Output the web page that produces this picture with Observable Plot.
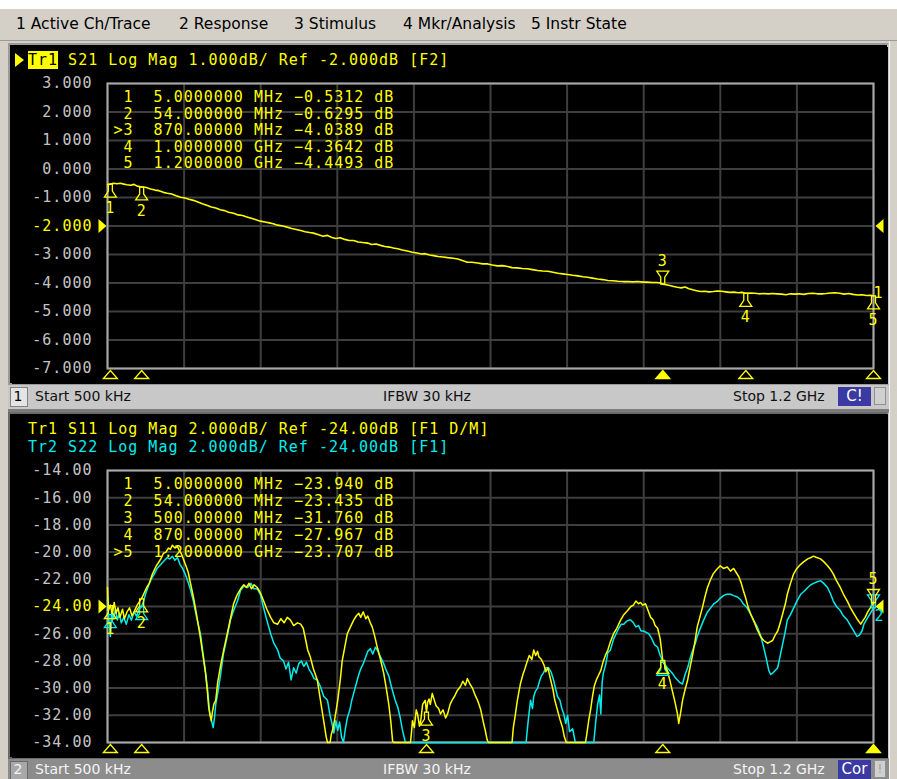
<!DOCTYPE html>
<html><head><meta charset="utf-8">
<script src="https://cdn.jsdelivr.net/npm/d3@7"></script>
<script src="https://cdn.jsdelivr.net/npm/@observablehq/plot@0.6"></script>
<style>
body{margin:0;width:897px;height:779px;position:relative;overflow:hidden;background:#d4d0c8;font-family:"DejaVu Sans",sans-serif;}
.abs{position:absolute;}
.menu{font-size:15.5px;color:#000;top:15px;line-height:19px;white-space:pre;}
.mono{font-family:"DejaVu Sans Mono",monospace;font-size:15px;letter-spacing:1px;white-space:pre;line-height:18px;}
.st{font-size:14px;line-height:17px;white-space:pre;}
</style></head><body>
<div class="abs" style="left:0;top:0;width:897px;height:9px;background:#fff"></div>
<div class="abs" style="left:0;top:9px;width:897px;height:31px;background:#d4d0c8;border-bottom:1px solid #9a9a9a"></div>
<div id="menu"></div>
<!-- panel 1 -->
<div class="abs" style="left:8px;top:43px;width:881px;height:342px;background:#000;box-sizing:border-box;border:2px solid #9a9a9a;border-right-color:#c8c8c8"></div>
<div id="p1" class="abs" style="left:12px;top:47px"></div>
<div id="h1" class="abs"></div>
<div class="abs" style="left:8px;top:385px;width:881px;height:24px;background:#c8c8c8;border-bottom:3px solid #7c7c7c"></div>
<div class="abs" style="left:10px;top:387px;width:16px;height:18px;background:#e4e4e4;border:1px solid #808080"></div>
<div id="s1" class="abs"></div>
<!-- panel 2 -->
<div class="abs" style="left:8px;top:412px;width:881px;height:347px;background:#000;box-sizing:border-box;border:2px solid #6a6a6a;border-right-color:#c8c8c8"></div>
<div id="p2" class="abs" style="left:12px;top:414px"></div>
<div id="h2" class="abs"></div>
<div class="abs" style="left:8px;top:759px;width:881px;height:20px;background:#8c8c8c"></div>
<div class="abs" style="left:10px;top:761px;width:16px;height:18px;background:#a8a8a8;border:1px solid #6a6a6a"></div>
<div id="s2" class="abs"></div>
<div class="abs" style="left:889px;top:41px;width:8px;height:738px;background:#d4d0c8;border-left:1px solid #f0f0f0"></div>
<script>
// ---------- texts ----------
const menuItems = ["1 Active Ch/Trace","2 Response","3 Stimulus","4 Mkr/Analysis","5 Instr State"];
const menuX = [16,179,294,403,531];
const ch1Header = ["Tr1", " S21 Log Mag 1.000dB/ Ref -2.000dB [F2]"];
const ch2Header = ["Tr1 S11 Log Mag 2.000dB/ Ref -24.00dB [F1 D/M]", "Tr2 S22 Log Mag 2.000dB/ Ref -24.00dB [F1]"];
const statusTexts = ["Start 500 kHz", "IFBW 30 kHz", "Stop 1.2 GHz"];
const ch1Flag = "C!", ch2Flag = "Cor";

// ---------- axes ----------
const xDivs = [0.5,120.45,240.4,360.35,480.3,600.25,720.2,840.15,960.1,1080.05,1200];
const topYTicks = [3,2,1,0,-1,-2,-3,-4,-5,-6,-7];
const topYLabels = ["3.000","2.000","1.000","0.000","-1.000","-2.000","-3.000","-4.000","-5.000","-6.000","-7.000"];
const topRef = -2;
const botYTicks = [-14,-16,-18,-20,-22,-24,-26,-28,-30,-32,-34];
const botYLabels = ["-14.00","-16.00","-18.00","-20.00","-22.00","-24.00","-26.00","-28.00","-30.00","-32.00","-34.00"];
const botRef = -24;

// ---------- markers ----------
const topMarkerFreq = [5,54,870,1000,1200];
const topMarkerVal = [-0.5312,-0.6295,-4.0389,-4.3642,-4.4493];
const topMarkerFreqLabel = ["5.0000000 MHz","54.000000 MHz","870.00000 MHz","1.0000000 GHz","1.2000000 GHz"];
const topActive = 3;
const botMarkerFreq = [5,54,500,870,1200];
const botS11Val = [-23.94,-23.435,-31.76,-27.967,-23.707];
const botS22Val = [-24.6,-24.0,-34,-28.1,-24.1];
const botMarkerFreqLabel = ["5.0000000 MHz","54.000000 MHz","500.00000 MHz","870.00000 MHz","1.2000000 GHz"];
const botActive = 5;

// ---------- traces [MHz, dB] ----------
const s21 = [[0.5,-0.55],[5,-0.53],[10,-0.50],[15,-0.52],[21,-0.50],[26,-0.53],[31,-0.55],[37,-0.57],[42,-0.54],[47,-0.60],[54,-0.63],[60,-0.64],[68,-0.70],[75,-0.74],[81,-0.76],[88,-0.82],[94,-0.85],[101,-0.88],[108,-0.94],[115,-0.99],[122,-1.02],[128,-1.06],[135,-1.10],[142,-1.16],[149,-1.22],[157,-1.28],[163,-1.33],[170,-1.37],[177,-1.43],[184,-1.46],[190,-1.52],[198,-1.55],[205,-1.61],[212,-1.63],[220,-1.69],[227,-1.74],[233,-1.78],[240,-1.83],[247,-1.86],[254,-1.89],[260,-1.92],[267,-1.97],[275,-2.00],[282,-2.04],[289,-2.09],[296,-2.12],[303,-2.16],[310,-2.20],[317,-2.23],[323,-2.25],[330,-2.30],[338,-2.36],[345,-2.33],[352,-2.40],[358,-2.44],[365,-2.41],[372,-2.47],[379,-2.51],[386,-2.51],[393,-2.56],[400,-2.58],[408,-2.60],[414,-2.65],[421,-2.63],[428,-2.68],[435,-2.72],[442,-2.74],[448,-2.77],[455,-2.80],[462,-2.84],[470,-2.88],[478,-2.92],[485,-2.95],[492,-2.98],[498,-2.97],[505,-3.02],[511,-3.04],[518,-3.07],[526,-3.09],[533,-3.11],[542,-3.13],[549,-3.16],[556,-3.21],[564,-3.27],[571,-3.27],[580,-3.30],[588,-3.33],[596,-3.33],[603,-3.37],[611,-3.40],[619,-3.39],[627,-3.42],[634,-3.46],[642,-3.47],[650,-3.49],[658,-3.50],[666,-3.53],[674,-3.56],[682,-3.58],[690,-3.59],[698,-3.62],[706,-3.66],[713,-3.68],[721,-3.70],[729,-3.73],[737,-3.75],[745,-3.78],[752,-3.80],[760,-3.83],[768,-3.86],[776,-3.88],[784,-3.91],[792,-3.92],[800,-3.94],[808,-3.95],[815,-3.95],[823,-3.96],[831,-3.95],[839,-3.97],[846,-3.97],[854,-3.98],[861,-3.98],[866,-4.00],[870,-4.04],[875,-4.06],[881,-4.09],[887,-4.12],[893,-4.15],[899,-4.17],[905,-4.14],[911,-4.20],[917,-4.24],[923,-4.27],[929,-4.30],[936,-4.29],[942,-4.31],[949,-4.30],[956,-4.28],[962,-4.29],[969,-4.31],[975,-4.33],[982,-4.32],[988,-4.34],[994,-4.33],[1000,-4.36],[1007,-4.35],[1014,-4.36],[1021,-4.38],[1028,-4.37],[1035,-4.38],[1042,-4.37],[1049,-4.38],[1056,-4.39],[1063,-4.41],[1070,-4.38],[1077,-4.39],[1084,-4.38],[1091,-4.40],[1098,-4.37],[1105,-4.36],[1112,-4.38],[1119,-4.38],[1126,-4.37],[1133,-4.35],[1140,-4.34],[1147,-4.36],[1154,-4.39],[1161,-4.37],[1168,-4.40],[1175,-4.42],[1182,-4.41],[1189,-4.44],[1195,-4.43],[1200,-4.45]];

const s11 = [[0.5,-22.6],[2,-24.3],[5,-23.9],[8,-24.6],[11,-23.7],[14,-24.5],[17,-24.1],[20,-24.8],[24,-24.2],[27,-24.9],[31,-24.4],[35,-24.1],[39,-24.7],[43,-24.3],[47,-23.9],[51,-23.6],[54,-23.4],[57,-23.1],[60,-22.8],[63,-22.5],[66,-22.3],[68,-22.0],[71,-21.6],[74,-21.3],[77,-21.0],[80,-20.8],[84,-20.5],[88,-20.1],[92,-20.0],[96,-19.7],[99,-19.8],[102,-19.5],[106,-19.7],[110,-19.6],[113,-19.9],[116,-20.1],[120,-20.6],[124,-21.1],[127,-21.5],[130,-22.2],[135,-23.3],[140,-24.6],[146,-26.3],[150,-27.6],[154,-28.9],[157,-30.3],[159,-31.4],[161,-32.0],[163,-32.4],[165,-31.7],[167,-31.2],[170,-30.9],[173,-29.6],[177,-28.5],[182,-27.3],[188,-26.0],[193,-24.9],[198,-23.8],[203,-23.2],[209,-22.7],[214,-22.4],[218,-22.6],[222,-22.3],[226,-22.7],[230,-22.4],[235,-22.6],[240,-23.0],[245,-23.6],[250,-24.2],[256,-24.8],[261,-25.2],[267,-25.3],[272,-24.9],[277,-25.2],[282,-24.8],[287,-25.0],[292,-25.4],[298,-25.2],[303,-25.3],[307,-25.6],[311,-26.5],[314,-27.2],[318,-27.7],[323,-28.6],[329,-29.4],[334,-30.9],[339,-32.4],[343,-33.6],[345,-34],[349,-34],[351,-33.4],[354,-32.9],[358,-31.8],[361,-30.9],[365,-29.4],[368,-28.0],[372,-27.0],[376,-26.0],[381,-25.5],[386,-25.0],[390,-24.7],[394,-24.5],[397,-24.8],[401,-24.4],[405,-24.9],[408,-24.7],[412,-25.2],[415,-25.5],[419,-26.2],[423,-27.0],[428,-27.9],[433,-28.9],[437,-30.0],[441,-31.2],[444,-32.4],[447,-33.9],[449,-34],[475,-34],[477,-33.0],[478,-32.4],[481,-32.9],[484,-31.6],[486,-31.9],[489,-32.8],[491,-32.4],[494,-31.2],[498,-30.9],[500,-31.76],[502,-31.0],[504,-30.8],[506,-31.2],[509,-30.4],[511,-30.7],[515,-31.3],[519,-31.5],[522,-31.9],[526,-31.6],[530,-32.2],[533,-31.9],[537,-31.2],[540,-30.9],[544,-30.6],[548,-30.2],[553,-29.9],[557,-29.5],[561,-29.8],[564,-29.3],[568,-29.7],[572,-30.0],[576,-30.5],[580,-30.9],[585,-31.6],[589,-32.5],[592,-33.1],[595,-33.8],[597,-34],[634,-34],[636,-32.9],[639,-32.0],[642,-31.0],[645,-30.2],[647,-29.7],[651,-29.0],[654,-28.6],[658,-28.0],[661,-27.6],[665,-27.9],[668,-27.2],[671,-27.6],[674,-27.3],[676,-27.7],[680,-27.9],[684,-28.3],[687,-28.8],[690,-28.5],[694,-29.3],[698,-30.1],[701,-30.9],[705,-31.6],[709,-32.3],[713,-32.9],[716,-33.6],[719,-34],[749,-34],[751,-33.4],[754,-32.4],[757,-31.6],[760,-30.6],[763,-29.8],[766,-29.4],[770,-29.0],[773,-28.7],[777,-28.0],[781,-27.5],[784,-27.2],[788,-26.6],[793,-26.0],[798,-25.6],[804,-25.0],[809,-24.6],[815,-24.3],[820,-24.0],[824,-23.9],[828,-23.6],[832,-23.8],[835,-23.7],[839,-23.9],[843,-23.8],[847,-24.3],[851,-24.8],[855,-25.0],[858,-25.4],[862,-25.6],[866,-26.4],[870,-27.97],[874,-28.4],[877,-28.7],[881,-29.4],[885,-30.2],[889,-31.0],[893,-31.9],[895,-32.6],[898,-31.8],[901,-30.9],[905,-30.1],[909,-29.4],[913,-28.4],[917,-27.5],[921,-26.4],[924,-25.5],[928,-24.8],[932,-24.1],[936,-23.3],[940,-22.6],[945,-22.0],[949,-21.6],[954,-21.3],[960,-21.0],[965,-21.2],[971,-21.1],[976,-21.4],[981,-21.2],[985,-21.5],[989,-21.8],[993,-22.3],[996,-22.8],[1000,-23.4],[1004,-24.1],[1008,-24.6],[1012,-25.0],[1018,-25.7],[1023,-26.2],[1028,-26.5],[1034,-26.7],[1038,-26.6],[1042,-26.5],[1046,-26.1],[1050,-25.8],[1054,-25.2],[1058,-24.5],[1062,-23.8],[1065,-23.1],[1070,-22.3],[1075,-21.6],[1080,-21.2],[1086,-20.9],[1091,-20.7],[1097,-20.5],[1102,-20.4],[1106,-20.3],[1111,-20.4],[1117,-20.5],[1122,-20.7],[1128,-21.0],[1133,-21.3],[1137,-21.6],[1142,-22.1],[1148,-22.6],[1153,-23.1],[1159,-23.6],[1164,-24.1],[1169,-24.5],[1174,-24.9],[1180,-25.3],[1184,-25.0],[1187,-24.8],[1191,-24.4],[1195,-24.1],[1200,-23.7]];

const s22 = [[0.5,-23.5],[2,-24.6],[5,-26.2],[7,-24.3],[10,-24.9],[13,-24.2],[16,-25.0],[19,-24.5],[22,-25.2],[26,-24.8],[30,-25.3],[34,-24.6],[38,-25.0],[42,-24.4],[46,-24.7],[50,-24.2],[54,-24.0],[57,-23.6],[60,-23.1],[63,-22.7],[66,-22.3],[70,-21.9],[74,-21.6],[78,-21.2],[82,-21.0],[86,-20.8],[90,-20.6],[94,-20.4],[98,-20.5],[102,-20.3],[106,-20.6],[110,-20.4],[114,-20.9],[118,-21.2],[122,-21.6],[126,-22.1],[130,-22.7],[135,-23.6],[140,-24.8],[146,-26.0],[150,-27.4],[154,-28.8],[157,-30.0],[160,-31.6],[163,-32.3],[166,-32.9],[168,-32.2],[170,-31.2],[173,-30.4],[177,-29.2],[182,-27.5],[188,-26.2],[193,-25.0],[198,-24.3],[204,-23.6],[209,-22.8],[214,-22.5],[220,-22.6],[225,-22.3],[230,-22.7],[235,-22.7],[240,-23.1],[245,-24.1],[250,-25.0],[256,-26.0],[261,-26.7],[267,-27.2],[271,-27.8],[276,-28.0],[280,-28.6],[284,-28.1],[288,-29.4],[292,-28.5],[296,-28.9],[300,-28.2],[304,-28.0],[308,-28.4],[312,-28.1],[316,-28.6],[320,-28.9],[324,-29.3],[329,-29.4],[334,-29.9],[339,-30.6],[345,-30.9],[349,-32.0],[352,-32.6],[355,-33.3],[358,-32.4],[361,-33.1],[364,-32.5],[367,-33.6],[370,-34],[373,-33.0],[376,-32.2],[380,-31.6],[383,-30.9],[387,-30.2],[390,-29.7],[394,-29.0],[397,-28.6],[401,-28.2],[405,-27.7],[408,-27.3],[412,-27.1],[416,-27.5],[420,-27.0],[423,-27.2],[428,-27.7],[433,-28.2],[437,-28.7],[441,-29.1],[444,-29.7],[448,-30.4],[451,-30.9],[455,-31.4],[459,-32.2],[462,-33.0],[465,-33.6],[467,-34],[656,-34],[658,-33.0],[660,-32.1],[663,-30.9],[666,-31.5],[668,-30.6],[671,-30.2],[674,-30.0],[677,-29.5],[680,-29.1],[683,-28.9],[687,-28.5],[691,-28.5],[695,-28.8],[699,-29.4],[702,-30.0],[705,-30.6],[709,-30.9],[712,-31.5],[715,-31.9],[718,-32.6],[721,-32.0],[724,-33.2],[729,-33.0],[733,-34],[762,-34],[765,-32.5],[768,-31.2],[771,-30.5],[773,-31.9],[775,-29.6],[777,-28.9],[781,-28.2],[784,-27.4],[788,-27.2],[793,-26.4],[797,-26.0],[801,-25.6],[805,-25.3],[809,-25.3],[813,-25.1],[817,-25.0],[820,-25.0],[824,-25.2],[828,-25.5],[832,-25.4],[836,-25.8],[840,-25.8],[844,-25.9],[848,-26.0],[852,-26.3],[857,-26.8],[862,-27.0],[866,-27.6],[870,-28.0],[874,-28.3],[877,-28.5],[881,-28.7],[885,-28.9],[889,-29.2],[893,-29.4],[897,-29.6],[901,-29.7],[905,-29.0],[909,-28.5],[913,-27.8],[917,-27.2],[921,-26.7],[924,-26.2],[928,-25.7],[934,-25.0],[940,-24.4],[945,-24.1],[950,-23.8],[956,-23.6],[960,-23.4],[965,-23.2],[970,-23.1],[976,-23.1],[981,-23.2],[987,-23.3],[992,-23.5],[996,-23.8],[1002,-24.1],[1007,-24.5],[1012,-25.0],[1018,-25.5],[1023,-26.1],[1028,-27.0],[1032,-27.8],[1036,-28.7],[1039,-29.0],[1042,-28.9],[1046,-28.7],[1050,-28.5],[1054,-27.6],[1058,-26.7],[1062,-25.8],[1065,-25.0],[1070,-24.6],[1075,-24.1],[1080,-23.6],[1086,-23.1],[1091,-22.9],[1097,-22.6],[1102,-22.4],[1106,-22.3],[1111,-22.2],[1117,-22.1],[1122,-22.3],[1128,-22.6],[1133,-23.1],[1137,-23.6],[1142,-24.0],[1148,-24.3],[1153,-24.7],[1159,-25.0],[1164,-25.4],[1169,-25.8],[1174,-26.2],[1178,-26.1],[1182,-25.8],[1185,-25.3],[1190,-24.9],[1195,-24.5],[1200,-24.1]];

// ---------- styling ----------
const YEL = "#ffff00", CYA = "#00ecec", GRID = "#3e3e3e", FRAME = "#a8a8a8", LBL = "#c4c4c4";
const MONO = "DejaVu Sans Mono";
const nb = s => s.replace(/ /g, "\u00a0");

// symbols (origin = anchor point)
const flagDown = {draw(c){c.moveTo(-2,0);c.lineTo(2,0);c.lineTo(2,7);c.lineTo(6,13);c.lineTo(-6,13);c.lineTo(-2,7);c.closePath();}};
const flagUp = {draw(c){c.moveTo(-2,0);c.lineTo(2,0);c.lineTo(2,-7);c.lineTo(6,-13);c.lineTo(-6,-13);c.lineTo(-2,-7);c.closePath();}};
const triUp = {draw(c){c.moveTo(0,-4);c.lineTo(7,4);c.lineTo(-7,4);c.closePath();}};
const arrowR = {draw(c){c.moveTo(-8,-7);c.lineTo(0,0);c.lineTo(-8,7);c.closePath();}};
const arrowL = {draw(c){c.moveTo(8,-7);c.lineTo(0,0);c.lineTo(8,7);c.closePath();}};

// ---------- HTML chrome ----------
const menu = document.getElementById("menu");
menuItems.forEach((t,i) => {
  const s = document.createElement("div");
  s.className = "abs menu"; s.style.left = menuX[i] + "px"; s.textContent = t;
  menu.appendChild(s);
});
function addDiv(parent, cls, style, text, html) {
  const d = document.createElement("div");
  d.className = cls; d.setAttribute("style", style);
  if (html) d.innerHTML = html; else d.textContent = text;
  parent.appendChild(d); return d;
}
const h1 = document.getElementById("h1");
addDiv(h1, "abs", "left:15px;top:53px;width:0;height:0;border-top:7px solid transparent;border-bottom:7px solid transparent;border-left:9px solid " + YEL, "");
addDiv(h1, "abs mono", "left:28px;top:51px;color:" + YEL, "", '<span style="background:' + YEL + ';color:#000">' + ch1Header[0] + '</span>' + ch1Header[1]);
const h2 = document.getElementById("h2");
addDiv(h2, "abs mono", "left:28px;top:420px;color:" + YEL, ch2Header[0]);
addDiv(h2, "abs mono", "left:28px;top:438px;color:" + CYA, ch2Header[1]);

function statusBar(el, top, num, flag, textColor, boxTextColor) {
  addDiv(el, "abs st", `left:10px;top:${top}px;width:16px;text-align:center;color:${boxTextColor}`, num);
  addDiv(el, "abs st", `left:35px;top:${top}px;color:${textColor}`, statusTexts[0]);
  addDiv(el, "abs st", `left:383px;top:${top}px;color:${textColor}`, statusTexts[1]);
  addDiv(el, "abs st", `left:733px;top:${top}px;color:${textColor}`, statusTexts[2]);
  addDiv(el, "abs", `left:838px;top:${top-1}px;width:33px;height:19px;background:#3a3aa2;color:#fff;font-size:15px;line-height:19px;text-align:center`, flag);
  addDiv(el, "abs", `left:874px;top:${top-1}px;width:12px;height:18px;background:#d0d0d0;border:1px solid #909090;box-sizing:border-box;color:#a0a0a0;font-size:12px;line-height:17px;text-align:center`, num === "2" ? "!" : "");
}
statusBar(document.getElementById("s1"), 388, "1", ch1Flag, "#111", "#000");
statusBar(document.getElementById("s2"), 761, "2", ch2Flag, "#f4f4f4", "#f4f4f4");

// ---------- Plot helpers ----------
function gridAndFrame(yTicks, yLabels, ref) {
  return [
    Plot.gridX(xDivs, {stroke: GRID, strokeOpacity: 1, strokeWidth: 2}),
    Plot.gridY(yTicks, {stroke: GRID, strokeOpacity: 1, strokeWidth: 2}),
    Plot.frame({stroke: FRAME, strokeWidth: 2}),
    Plot.text(yTicks, {y: d => d, frameAnchor: "left", dx: -15, textAnchor: "end",
      text: (d, i) => yLabels[i], fill: d => d === ref ? YEL : LBL,
      fontFamily: MONO, fontSize: 15}),
    Plot.dot([ref], {y: d => d, frameAnchor: "left", dx: -1, symbol: arrowR, fill: YEL, stroke: "none", r: 4}),
    Plot.dot([ref], {y: d => d, frameAnchor: "right", dx: 2, symbol: arrowL, fill: YEL, stroke: "none", r: 4})
  ];
}
function table(freqLabels, vals, fmt, active, spacing, color) {
  return freqLabels.map((f, i) => {
    const n = i + 1;
    const row = (n === active ? ">" : " ") + n + "  " + f + " " + d3.format(fmt)(vals[i]) + " dB";
    return Plot.text([row], {frameAnchor: "top-left", dx: 6, dy: 8 + i * spacing, text: d => nb(d),
      textAnchor: "start", fill: color, fontFamily: MONO, fontSize: 15});
  });
}
function markers(freqs, vals, active, color, withNumbers) {
  const rows = freqs.map((f, i) => ({n: i + 1, f, v: vals[i]})).filter(d => d.v > -34);
  const below = rows.filter(d => d.n !== active), above = rows.filter(d => d.n === active);
  const marks = [
    Plot.dot(below, {x: "f", y: "v", symbol: flagDown, stroke: color, fill: "none", strokeWidth: 1.3, r: 4}),
    Plot.dot(above, {x: "f", y: "v", symbol: flagUp, stroke: color, fill: "none", strokeWidth: 1.3, r: 4})
  ];
  if (withNumbers) marks.push(
    Plot.text(below, {x: "f", y: "v", text: d => String(d.n), dy: 24, fill: color, fontFamily: MONO, fontSize: 15}),
    Plot.text(above, {x: "f", y: "v", text: d => String(d.n), dy: -23, fill: color, fontFamily: MONO, fontSize: 15})
  );
  return marks;
}
function axisTriangles(freqs, active) {
  return [
    Plot.dot(freqs.filter((f, i) => i + 1 !== active), {x: d => d, frameAnchor: "bottom", dy: 6, symbol: triUp, stroke: YEL, fill: "none", strokeWidth: 1.3, r: 4}),
    Plot.dot(freqs.filter((f, i) => i + 1 === active), {x: d => d, frameAnchor: "bottom", dy: 6, symbol: triUp, stroke: YEL, fill: YEL, strokeWidth: 1.3, r: 4})
  ];
}

const common = {
  width: 876, marginLeft: 95, marginRight: 15,
  x: {domain: [0.5, 1200], axis: null},
  color: {type: "identity"},
  style: {background: "#000", letterSpacing: "1px", overflow: "visible"}
};

// ---------- Channel 1 ----------
const p1 = Plot.plot({
  ...common, height: 337, marginTop: 36, marginBottom: 16,
  y: {domain: [-7, 3], axis: null},
  marks: [
    ...gridAndFrame(topYTicks, topYLabels, topRef),
    ...table(topMarkerFreqLabel, topMarkerVal, ".4f", topActive, 16.5, YEL),
    Plot.line(s21, {x: d => d[0], y: d => d[1], stroke: YEL, strokeWidth: 1.6}),
    ...markers(topMarkerFreq, topMarkerVal, topActive, YEL, true),
    Plot.text([s21[s21.length - 1]], {x: d => d[0], y: d => d[1], text: () => "1", dx: 5, dy: -3, fill: YEL, fontFamily: MONO, fontSize: 15}),
    ...axisTriangles(topMarkerFreq, topActive)
  ]
});
document.getElementById("p1").appendChild(p1);

// ---------- Channel 2 ----------
const p2 = Plot.plot({
  ...common, height: 344, marginTop: 56, marginBottom: 16,
  y: {domain: [-34, -14], axis: null},
  marks: [
    ...gridAndFrame(botYTicks, botYLabels, botRef),
    ...table(botMarkerFreqLabel, botS11Val, ".3f", botActive, 17, YEL),
    Plot.line(s22, {x: d => d[0], y: d => d[1], stroke: CYA, strokeWidth: 1.5}),
    Plot.line(s11, {x: d => d[0], y: d => d[1], stroke: YEL, strokeWidth: 1.5}),
    ...markers(botMarkerFreq, botS22Val, botActive, CYA, false),
    ...markers(botMarkerFreq, botS11Val, botActive, YEL, true),
    Plot.text([s22[s22.length - 1]], {x: d => d[0], y: d => d[1], text: () => "2", dx: 6, dy: 8, fill: CYA, fontFamily: MONO, fontSize: 15}),
    ...axisTriangles(botMarkerFreq, botActive)
  ]
});
document.getElementById("p2").appendChild(p2);
</script>
</body></html>
